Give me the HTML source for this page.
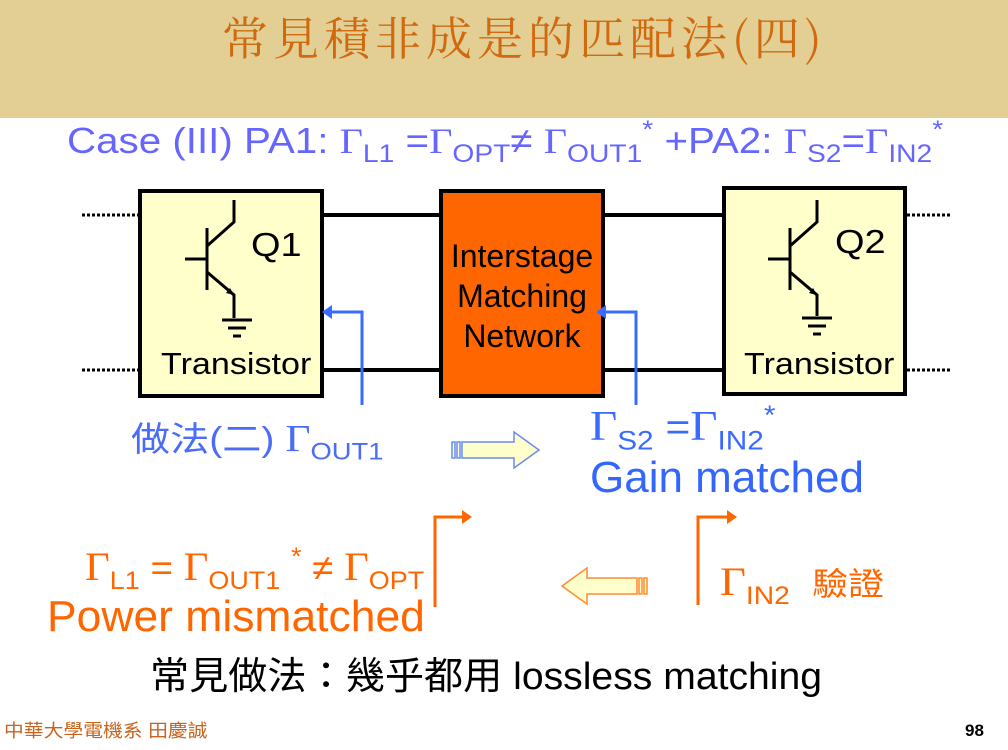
<!DOCTYPE html>
<html><head><meta charset="utf-8"><style>
html,body{margin:0;padding:0;background:#fff}
body{width:1008px;height:750px;position:relative;overflow:hidden}
svg{position:absolute;left:0;top:0}
.t{position:absolute;white-space:nowrap;font-family:"Liberation Sans","Noto Sans CJK TC",sans-serif;line-height:1;transform-origin:0 0}
.g{font-family:"Liberation Serif","Noto Serif CJK SC",serif}
sub{font-family:"Liberation Sans",sans-serif;font-size:0.7em;vertical-align:-0.35em}
sup{font-size:0.7em;vertical-align:0.6em}
</style></head><body>
<div style="position:absolute;left:0;top:0;width:1008px;height:118px;background:#E3CE93"></div>
<div class="t" style="left:222px;top:13px;font-size:46px;color:#D06A10;font-family:'Noto Serif CJK SC','Liberation Serif',serif;letter-spacing:5px">常見積非成是的匹配法(四)</div>
<div class="t" style="left:67px;top:118px;font-size:36px;color:#6666FF;transform:scaleX(1.12)">Case (III) PA1: <span class="g">Γ</span><sub>L1</sub> =<span class="g">Γ</span><sub>OPT</sub>≠ <span class="g">Γ</span><sub>OUT1</sub><sup>*</sup> +PA2: <span class="g">Γ</span><sub>S2</sub>=<span class="g">Γ</span><sub>IN2</sub><sup>*</sup></div>
<svg width="1008" height="750">
<g stroke="#000" stroke-width="4">
<line x1="322" y1="215" x2="440" y2="215"/><line x1="604" y1="215" x2="722" y2="215"/>
<line x1="322" y1="370" x2="440" y2="370"/><line x1="604" y1="370" x2="722" y2="370"/>
</g>
<g stroke="#000" stroke-width="3" stroke-dasharray="3,2">
<line x1="82" y1="215" x2="138" y2="215"/><line x1="82" y1="370" x2="138" y2="370"/>
<line x1="907" y1="215" x2="952" y2="215"/><line x1="907" y1="370" x2="952" y2="370"/>
</g>
<rect x="140" y="191" width="182" height="205" fill="#FFFFCC" stroke="#000" stroke-width="4"/>
<rect x="441" y="191" width="162" height="205" fill="#FF6600" stroke="#000" stroke-width="4"/>
<rect x="724" y="188" width="181" height="206" fill="#FFFFCC" stroke="#000" stroke-width="4"/>
<g stroke="#000" stroke-width="3" fill="none">
<path d="M207 228V290M185 259H207M207 246L234 222V200M207 272L234 295V318"/>
<path d="M222 320H252M228 328H246M233 336H241"/>
<path d="M790 228V290M768 259H790M790 246L817 222V200M790 272L817 295V316"/>
<path d="M802 318H832M808 326H826M813 334H821"/>
</g>
<path d="M234 295l-8-2 4-5z M817 295l-8-2 4-5z" fill="#000"/>
<g stroke="#3A6BFF" stroke-width="3" fill="none">
<path d="M362 405V312H328"/><path d="M636 405V312H602"/>
</g>
<path d="M322 312l10-7v14z M596 312l10-7v14z" fill="#3A6BFF"/>
<g stroke="#FF6600" stroke-width="3" fill="none">
<path d="M435 607V517H464"/><path d="M698 605V517H728"/>
</g>
<path d="M472 517l-10-7v14z M737 517l-10-7v14z" fill="#FF6600"/>
<path d="M452 442h3v16h-3z M457 442h3v16h-3z M462 442h52v-10l25 18-25 18v-10h-52z" fill="#FFFFCC" stroke="#6A8CF0" stroke-width="1.5"/>
<path d="M647 578h-3v16h3z M642 578h-3v16h3z M637 578h-50v-10l-25 18 25 18v-10h50z" fill="#FFFFCC" stroke="#FF8C30" stroke-width="1.5"/>
</svg>
<div class="t" style="left:251px;top:228px;font-size:33px;color:#000;transform:scaleX(1.15)">Q1</div>
<div class="t" style="left:835px;top:225px;font-size:33px;color:#000;transform:scaleX(1.15)">Q2</div>
<div class="t" style="left:161px;top:348px;font-size:31px;color:#000;transform:scaleX(1.1)">Transistor</div>
<div class="t" style="left:744px;top:348px;font-size:31px;color:#000;transform:scaleX(1.1)">Transistor</div>
<div class="t" style="left:441px;top:236px;width:162px;text-align:center;font-size:32px;color:#000;line-height:40px">Interstage<br>Matching<br>Network</div>
<div class="t" style="left:131px;top:420px;font-size:34px;color:#4A6CF7;transform:scaleX(1.15)">做法(二) <span class="g" style="font-size:38px">Γ</span><sub>OUT1</sub></div>
<div class="t" style="left:590px;top:402px;font-size:38px;color:#3A6BFF;transform:scaleX(1.12)"><span class="g" style="font-size:42px">Γ</span><sub>S2</sub> =<span class="g" style="font-size:42px">Γ</span><sub>IN2</sub><sup>*</sup></div>
<div class="t" style="left:590px;top:456px;font-size:44px;color:#3366FF">Gain matched</div>
<div class="t" style="left:85px;top:545px;font-size:36px;color:#FF6600;transform:scaleX(1.07)"><span class="g" style="font-size:40px">Γ</span><sub>L1</sub> = <span class="g" style="font-size:40px">Γ</span><sub>OUT1</sub> <sup>*</sup> ≠ <span class="g" style="font-size:40px">Γ</span><sub>OPT</sub></div>
<div class="t" style="left:47px;top:595px;font-size:44px;color:#FF6600;transform:scaleX(1.01)">Power mismatched</div>
<div class="t" style="left:720px;top:562px;font-size:36px;color:#FF6600;transform:scaleX(1.12)"><span class="g" style="font-size:40px">Γ</span><sub>IN2</sub>&nbsp; <span style="font-size:32px">驗證</span></div>
<div class="t" style="left:150px;top:658px;font-size:38px;color:#000;transform:scaleX(1.03)">常見做法：幾乎都用 lossless matching</div>
<div class="t" style="left:4px;top:722px;font-size:18px;color:#C8641E;transform:scaleX(1.1)">中華大學電機系 田慶誠</div>
<div class="t" style="left:965px;top:722px;font-size:17px;font-weight:bold;color:#000">98</div>
</body></html>
